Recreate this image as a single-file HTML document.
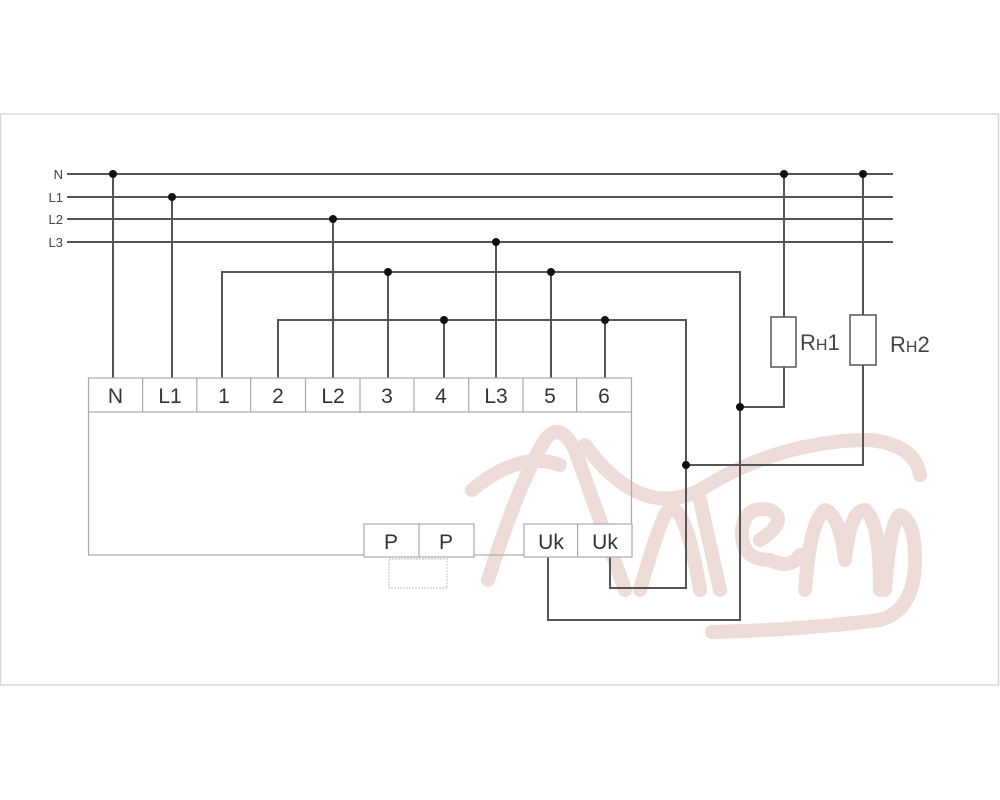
<!DOCTYPE html>
<html><head><meta charset="utf-8"><style>html,body{margin:0;padding:0;background:#fff}svg{display:block}</style></head><body>
<svg width="1000" height="800" viewBox="0 0 1000 800" xmlns="http://www.w3.org/2000/svg" font-family="Liberation Sans, sans-serif">
<rect x="0.5" y="114" width="998" height="571" fill="none" stroke="#d8d8d8" stroke-width="1.5"/>
<g fill="none" stroke="#eddcd8" stroke-width="14" stroke-linecap="round" stroke-linejoin="round">
<path d="M472 490 Q520 450 560 465"/>
<path d="M488 580 Q520 480 545 440 Q560 420 575 450 Q600 520 625 590"/>
<path d="M585 445 Q640 520 700 490 Q780 440 870 440 Q915 445 920 475"/>
<path d="M640 590 Q660 520 668 510 Q685 500 700 590"/>
<path d="M700 500 L720 590"/>
<path d="M770 560 Q740 560 742 530 Q745 505 770 510 Q790 520 760 540"/>
<path d="M770 560 Q790 570 800 555"/>
<path d="M805 590 Q810 520 825 510 Q840 515 845 560 Q850 510 865 510 Q880 520 880 590"/>
<path d="M885 590 Q890 520 900 515 Q915 520 915 560 Q915 610 880 620 Q800 630 712 632"/>
</g>
<g stroke="#555" stroke-width="2" fill="none">
<line x1="67" y1="174" x2="893" y2="174"/>
<line x1="67" y1="197" x2="893" y2="197"/>
<line x1="67" y1="219" x2="893" y2="219"/>
<line x1="67" y1="242" x2="893" y2="242"/>
<line x1="113" y1="174" x2="113" y2="378"/>
<line x1="172" y1="197" x2="172" y2="378"/>
<line x1="333" y1="219" x2="333" y2="378"/>
<line x1="496" y1="242" x2="496" y2="378"/>
<polyline points="222,378 222,272 740,272 740,620 548,620 548,557"/>
<line x1="388" y1="272" x2="388" y2="378"/>
<line x1="551" y1="272" x2="551" y2="378"/>
<polyline points="278,378 278,320 686,320 686,588 610,588 610,557"/>
<line x1="444" y1="320" x2="444" y2="378"/>
<line x1="605" y1="320" x2="605" y2="378"/>
<polyline points="784,174 784,317"/>
<polyline points="784,367 784,407 740,407"/>
<polyline points="863,174 863,315"/>
<polyline points="863,365 863,465 686,465"/>
</g>
<g stroke="#555" stroke-width="1.5" fill="#fff">
<rect x="771" y="317" width="25" height="50"/>
<rect x="850" y="315" width="26" height="50"/>
</g>
<g fill="#111">
<circle cx="113" cy="174" r="4"/><circle cx="172" cy="197" r="4"/><circle cx="333" cy="219" r="4"/><circle cx="496" cy="242" r="4"/>
<circle cx="388" cy="272" r="4"/><circle cx="551" cy="272" r="4"/><circle cx="444" cy="320" r="4"/><circle cx="605" cy="320" r="4"/>
<circle cx="784" cy="174" r="4"/><circle cx="863" cy="174" r="4"/><circle cx="740" cy="407" r="4"/><circle cx="686" cy="465" r="4"/>
</g>
<g stroke="#aaa" stroke-width="1.2" fill="none">
<rect x="88.5" y="378" width="543" height="177"/>
<line x1="88.5" y1="412" x2="631.5" y2="412"/>
<line x1="142.6" y1="378" x2="142.6" y2="412"/><line x1="196.8" y1="378" x2="196.8" y2="412"/>
<line x1="250.6" y1="378" x2="250.6" y2="412"/><line x1="305.5" y1="378" x2="305.5" y2="412"/>
<line x1="360" y1="378" x2="360" y2="412"/><line x1="414" y1="378" x2="414" y2="412"/>
<line x1="468.7" y1="378" x2="468.7" y2="412"/><line x1="523" y1="378" x2="523" y2="412"/>
<line x1="576.6" y1="378" x2="576.6" y2="412"/>
<rect x="364" y="524" width="110" height="33" fill="#fff"/><line x1="419" y1="524" x2="419" y2="557"/>
<rect x="524" y="524" width="108" height="33" fill="#fff"/><line x1="577.6" y1="524" x2="577.6" y2="557"/>
<rect x="389" y="559" width="58" height="29" stroke="#ccc" stroke-dasharray="2,1"/>
</g>
<g fill="#444" font-size="13" text-anchor="end">
<text x="63" y="179">N</text><text x="63" y="202">L1</text><text x="63" y="224">L2</text><text x="63" y="247">L3</text>
</g>
<g fill="#333" font-size="21" text-anchor="middle">
<text x="115.5" y="403">N</text><text x="170" y="403">L1</text><text x="224" y="403">1</text><text x="278" y="403">2</text>
<text x="333" y="403">L2</text><text x="387" y="403">3</text><text x="441" y="403">4</text><text x="496" y="403">L3</text>
<text x="550" y="403">5</text><text x="604" y="403">6</text>
<text x="391" y="549">P</text><text x="446" y="549">P</text>
<text x="551" y="549">Uk</text><text x="605" y="549">Uk</text>
</g>
<g fill="#444" font-size="22">
<text x="800" y="350">R<tspan font-size="16">Н</tspan>1</text>
<text x="890" y="352">R<tspan font-size="16">Н</tspan>2</text>
</g>
</svg>
</body></html>
